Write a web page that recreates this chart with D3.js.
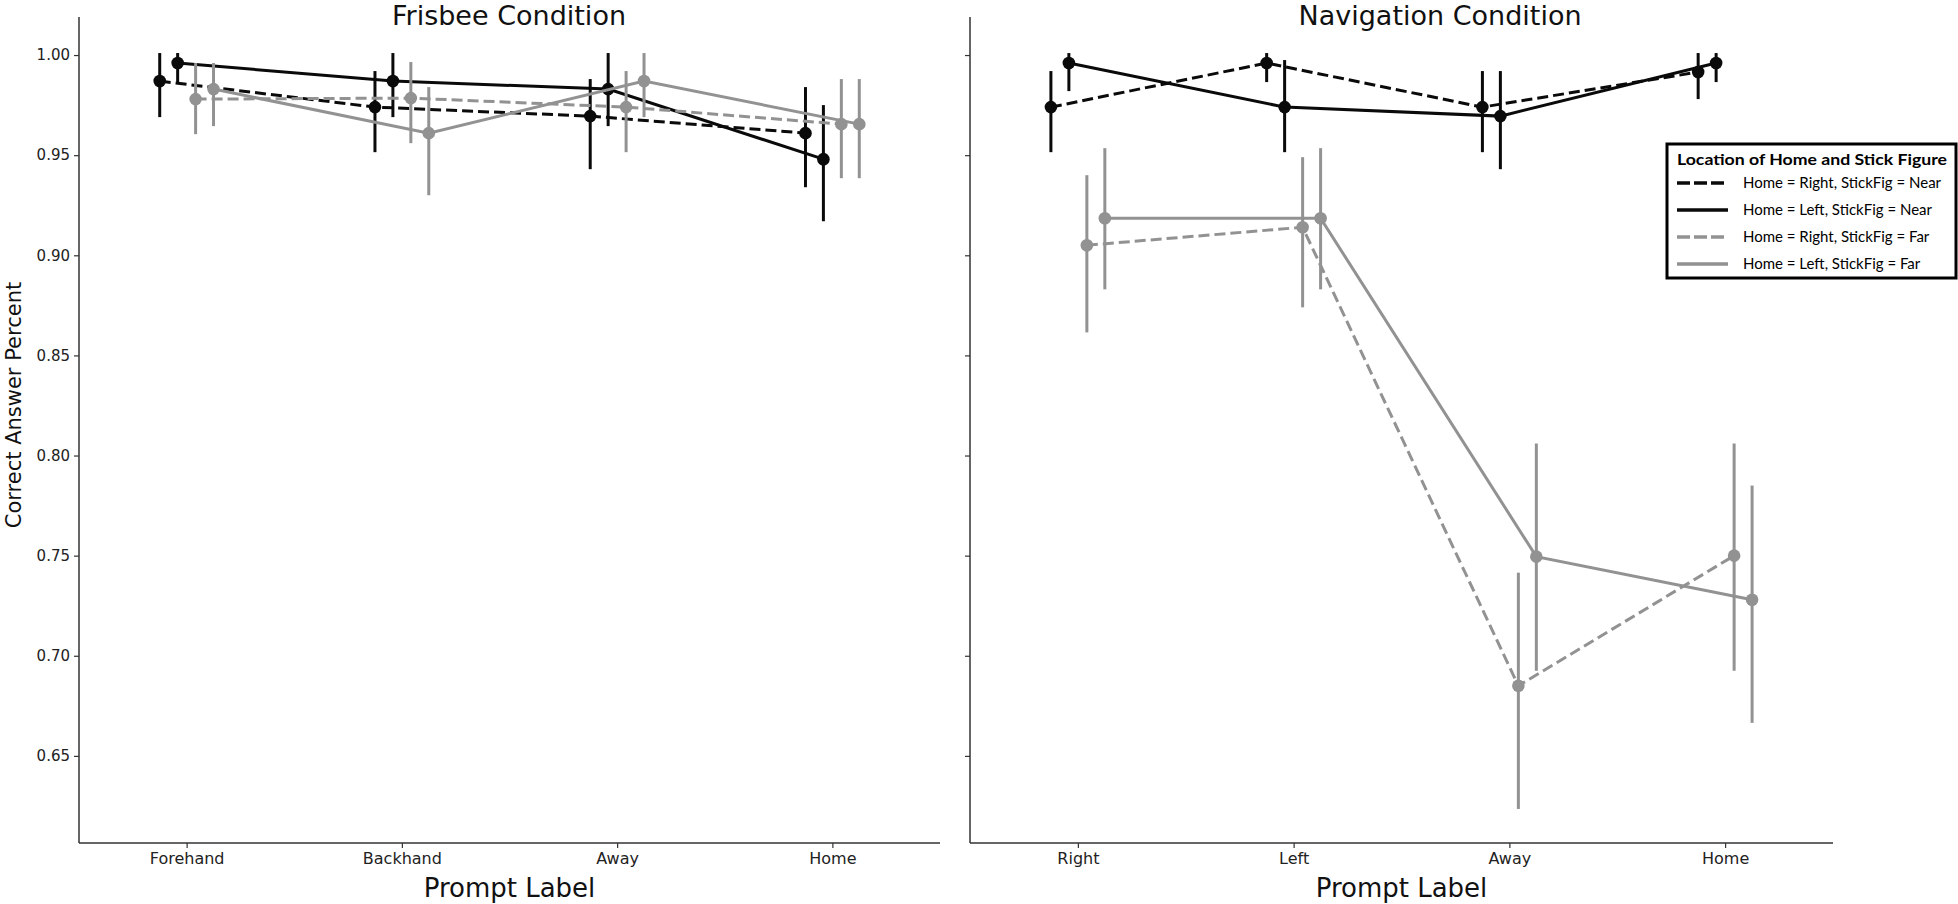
<!DOCTYPE html>
<html>
<head>
<meta charset="utf-8">
<script src="https://cdn.jsdelivr.net/npm/d3@7/dist/d3.min.js"></script>
<style>
  html, body { margin: 0; padding: 0; background: #fff; }
  svg { display: block; }
</style>
</head>
<body>
<svg id="chart" width="1958" height="904"></svg>
<script>
// ---------------- data ----------------
const frisbeeCategories = ["Forehand", "Backhand", "Away", "Home"];
const navigationCategories = ["Right", "Left", "Away", "Home"];
const seriesNames = [
  "Home = Right, StickFig = Near",
  "Home = Left, StickFig = Near",
  "Home = Right, StickFig = Far",
  "Home = Left, StickFig = Far"
];
const yTicks = [0.65, 0.70, 0.75, 0.80, 0.85, 0.90, 0.95, 1.00];

// Frisbee condition: means and 95% CI bounds per series
const frisbeeMean_RightNear = [0.987, 0.974, 0.9695, 0.961];
const frisbeeLow_RightNear  = [0.969, 0.9515, 0.943, 0.934];
const frisbeeHigh_RightNear = [1.001, 0.992, 0.988, 0.984];

const frisbeeMean_LeftNear = [0.996, 0.987, 0.983, 0.948];
const frisbeeLow_LeftNear  = [0.9865, 0.969, 0.9645, 0.917];
const frisbeeHigh_LeftNear = [1.001, 1.001, 1.001, 0.975];

const frisbeeMean_RightFar = [0.978, 0.9785, 0.974, 0.9655];
const frisbeeLow_RightFar  = [0.9605, 0.956, 0.9515, 0.9385];
const frisbeeHigh_RightFar = [0.996, 0.9965, 0.992, 0.988];

const frisbeeMean_LeftFar = [0.983, 0.961, 0.987, 0.9655];
const frisbeeLow_LeftFar  = [0.9645, 0.930, 0.969, 0.9385];
const frisbeeHigh_LeftFar = [0.996, 0.984, 1.001, 0.988];

// Navigation condition
const navMean_RightNear = [0.974, 0.996, 0.974, 0.9915];
const navLow_RightNear  = [0.9515, 0.9865, 0.9515, 0.978];
const navHigh_RightNear = [0.992, 1.001, 0.992, 1.001];

const navMean_LeftNear = [0.996, 0.974, 0.9695, 0.996];
const navLow_LeftNear  = [0.982, 0.9515, 0.943, 0.9865];
const navHigh_LeftNear = [1.001, 0.9975, 0.992, 1.001];

const navMean_RightFar = [0.905, 0.914, 0.685, 0.750];
const navLow_RightFar  = [0.8615, 0.874, 0.6235, 0.6925];
const navHigh_RightFar = [0.940, 0.949, 0.7415, 0.806];

const navMean_LeftFar = [0.9185, 0.9185, 0.7495, 0.728];
const navLow_LeftFar  = [0.883, 0.883, 0.6925, 0.6665];
const navHigh_LeftFar = [0.9535, 0.9535, 0.806, 0.785];

// ---------------- styles ----------------
const BLACK = "#0a0a0a";
const GREY = "#929292";
const seriesStyle = [
  { color: BLACK, dash: "11,5" },
  { color: BLACK, dash: null },
  { color: GREY, dash: "11,5" },
  { color: GREY, dash: null }
];
const dodgeOffsets = [-0.125, -0.0417, 0.0417, 0.125];

const panels = [
  {
    title: "Frisbee Condition", titleX: 509, cats: frisbeeCategories, range: [79, 940], showYLabels: true,
    series: [
      { mean: frisbeeMean_RightNear, lo: frisbeeLow_RightNear, hi: frisbeeHigh_RightNear },
      { mean: frisbeeMean_LeftNear, lo: frisbeeLow_LeftNear, hi: frisbeeHigh_LeftNear },
      { mean: frisbeeMean_RightFar, lo: frisbeeLow_RightFar, hi: frisbeeHigh_RightFar },
      { mean: frisbeeMean_LeftFar, lo: frisbeeLow_LeftFar, hi: frisbeeHigh_LeftFar }
    ]
  },
  {
    title: "Navigation Condition", titleX: 1440, cats: navigationCategories, range: [970, 1833], showYLabels: false,
    series: [
      { mean: navMean_RightNear, lo: navLow_RightNear, hi: navHigh_RightNear },
      { mean: navMean_LeftNear, lo: navLow_LeftNear, hi: navHigh_LeftNear },
      { mean: navMean_RightFar, lo: navLow_RightFar, hi: navHigh_RightFar },
      { mean: navMean_LeftFar, lo: navLow_LeftFar, hi: navHigh_LeftFar }
    ]
  }
];

const svg = d3.select("#chart");
const plotTop = 17, plotBottom = 843;
const y = d3.scaleLinear().domain([0.6065, 1.019]).range([plotBottom, plotTop]);

const FONT = "'DejaVu Sans', sans-serif";
const AXIS_COLOR = "#333";

panels.forEach(p => {
  const x = d3.scaleLinear().domain([-0.5, 3.5]).range(p.range);
  const g = svg.append("g");

  // y axis
  const yAxis = d3.axisLeft(y).tickValues(yTicks).tickSize(5).tickPadding(4)
    .tickFormat(p.showYLabels ? d3.format(".2f") : () => "");
  const ya = g.append("g").attr("transform", `translate(${p.range[0]},0)`).call(yAxis);
  ya.select(".domain").attr("stroke", AXIS_COLOR).attr("stroke-width", 1.5)
    .attr("d", `M0,${plotTop}V${plotBottom}`);
  ya.selectAll(".tick line").attr("stroke", AXIS_COLOR).attr("stroke-width", 1.2);
  ya.selectAll(".tick text").attr("font-family", FONT).attr("font-size", 15).attr("fill", "#222");

  // x axis
  const xAxis = d3.axisBottom(x).tickValues([0, 1, 2, 3]).tickSize(5).tickPadding(5)
    .tickFormat(i => p.cats[i]);
  const xa = g.append("g").attr("transform", `translate(0,${plotBottom})`).call(xAxis);
  xa.select(".domain").attr("stroke", AXIS_COLOR).attr("stroke-width", 1.5)
    .attr("d", `M${p.range[0]},0H${p.range[1]}`);
  xa.selectAll(".tick line").attr("stroke", AXIS_COLOR).attr("stroke-width", 1.2);
  xa.selectAll(".tick text").attr("font-family", FONT).attr("font-size", 16).attr("fill", "#222");

  // titles
  g.append("text").attr("x", p.titleX).attr("y", 25).attr("text-anchor", "middle")
    .attr("font-family", FONT).attr("font-size", 27).attr("fill", "#111").text(p.title);
  g.append("text").attr("x", (p.range[0] + p.range[1]) / 2).attr("y", 897).attr("text-anchor", "middle")
    .attr("font-family", FONT).attr("font-size", 26).attr("fill", "#111").text("Prompt Label");

  // series
  p.series.forEach((s, si) => {
    const st = seriesStyle[si];
    const pts = s.mean.map((m, i) => ({ cx: x(i + dodgeOffsets[si]), m, lo: s.lo[i], hi: s.hi[i] }));
    const sg = g.append("g");
    sg.append("path")
      .attr("d", d3.line().x(d => d.cx).y(d => y(d.m))(pts))
      .attr("fill", "none").attr("stroke", st.color).attr("stroke-width", 3)
      .attr("stroke-dasharray", st.dash);
    sg.selectAll("line.err").data(pts).join("line").attr("class", "err")
      .attr("x1", d => d.cx).attr("x2", d => d.cx)
      .attr("y1", d => y(d.lo)).attr("y2", d => y(d.hi))
      .attr("stroke", st.color).attr("stroke-width", 3);
    sg.selectAll("circle").data(pts).join("circle")
      .attr("cx", d => d.cx).attr("cy", d => y(d.m)).attr("r", 6.3)
      .attr("fill", st.color);
  });
});

// y label
svg.append("text").attr("transform", "translate(21,405) rotate(-90)").attr("text-anchor", "middle")
  .attr("font-family", FONT).attr("font-size", 21).attr("fill", "#111").text("Correct Answer Percent");

// legend
const LFONT = "Lato, 'Open Sans', sans-serif";
const lg = svg.append("g");
lg.append("rect").attr("x", 1667).attr("y", 144).attr("width", 289).attr("height", 134)
  .attr("fill", "#fff").attr("stroke", "#000").attr("stroke-width", 3);
lg.append("text").attr("x", 1677).attr("y", 165).attr("font-family", LFONT).attr("font-weight", "bold")
  .attr("font-size", 16).attr("fill", "#000").attr("textLength", 270).attr("lengthAdjust", "spacingAndGlyphs")
  .text("Location of Home and Stick Figure");
const rowY = [183, 210, 237, 264];
seriesNames.forEach((name, i) => {
  const st = seriesStyle[i];
  lg.append("line").attr("x1", 1677).attr("x2", 1728).attr("y1", rowY[i]).attr("y2", rowY[i])
    .attr("stroke", st.color).attr("stroke-width", 3.5).attr("stroke-dasharray", st.dash ? "13,4" : null);
  lg.append("text").attr("x", 1743).attr("y", rowY[i] + 5).attr("font-family", LFONT)
    .attr("font-size", 15).attr("fill", "#000").text(name);
});
</script>
</body>
</html>
